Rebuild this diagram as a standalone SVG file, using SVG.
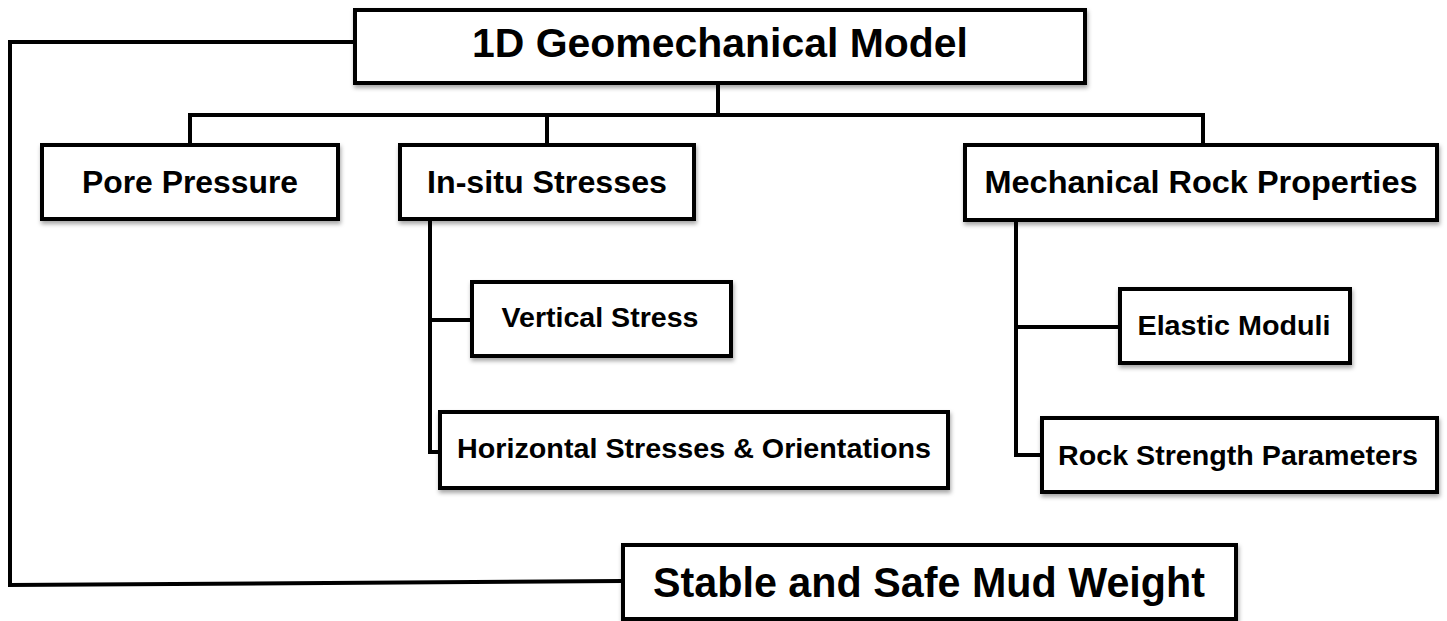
<svg xmlns="http://www.w3.org/2000/svg" width="1447" height="621" viewBox="0 0 1447 621">
<defs>
<filter id="sh" x="-5%" y="-10%" width="110%" height="130%">
<feDropShadow dx="1" dy="3" stdDeviation="2" flood-color="#000" flood-opacity="0.35"/>
</filter>
<style>
.box{fill:#fff;stroke:#000;stroke-width:4;filter:url(#sh)}
.ln{fill:none;stroke:#000;stroke-width:4;stroke-linejoin:miter}
.t{font-family:"Liberation Sans",Arial,sans-serif;font-weight:bold;fill:#000;text-anchor:middle}
.big{font-size:40px}
.mud{font-size:42px}
.mid{font-size:32px}
.sm{font-size:28px}
</style>
</defs>
<g id="connectors">
<polyline class="ln" points="355,42 10,42 10,585 623,581"/>
<polyline class="ln" points="718,83 718,115"/>
<polyline class="ln" points="190,145 190,115 1203,115 1203,145"/>
<polyline class="ln" points="547,115 547,145"/>
<polyline class="ln" points="430,219 430,452 440,452"/>
<polyline class="ln" points="430,320 472,320"/>
<polyline class="ln" points="1016,220 1016,455 1042,455"/>
<polyline class="ln" points="1016,327 1120,327"/>
</g>
<g id="n-model">
<rect class="box" x="355" y="10" width="730" height="73"/>
<text class="t big" x="720" y="57" textLength="496" lengthAdjust="spacingAndGlyphs">1D Geomechanical Model</text>
</g>
<g id="n-pore">
<rect class="box" x="42" y="145" width="296" height="74"/>
<text class="t mid" x="190" y="193" textLength="216" lengthAdjust="spacingAndGlyphs">Pore Pressure</text>
</g>
<g id="n-insitu">
<rect class="box" x="400" y="145" width="294" height="74"/>
<text class="t mid" x="547" y="193" textLength="240" lengthAdjust="spacingAndGlyphs">In-situ Stresses</text>
</g>
<g id="n-mech">
<rect class="box" x="965" y="145" width="472" height="75"/>
<text class="t mid" x="1201" y="193" textLength="433" lengthAdjust="spacingAndGlyphs">Mechanical Rock Properties</text>
</g>
<g id="n-vertical">
<rect class="box" x="472" y="282" width="259" height="74"/>
<text class="t sm" x="600" y="327" textLength="197" lengthAdjust="spacingAndGlyphs">Vertical Stress</text>
</g>
<g id="n-horizontal">
<rect class="box" x="440" y="412" width="508" height="76"/>
<text class="t sm" x="694" y="458" textLength="474" lengthAdjust="spacingAndGlyphs">Horizontal Stresses &amp; Orientations</text>
</g>
<g id="n-elastic">
<rect class="box" x="1120" y="289" width="230" height="74"/>
<text class="t sm" x="1234" y="335" textLength="193" lengthAdjust="spacingAndGlyphs">Elastic Moduli</text>
</g>
<g id="n-strength">
<rect class="box" x="1042" y="418" width="395" height="74"/>
<text class="t sm" x="1238" y="465" textLength="360" lengthAdjust="spacingAndGlyphs">Rock Strength Parameters</text>
</g>
<g id="n-mud">
<rect class="box" x="623" y="545" width="613" height="74"/>
<text class="t mud" x="929" y="597" textLength="552" lengthAdjust="spacingAndGlyphs">Stable and Safe Mud Weight</text>
</g>
</svg>
